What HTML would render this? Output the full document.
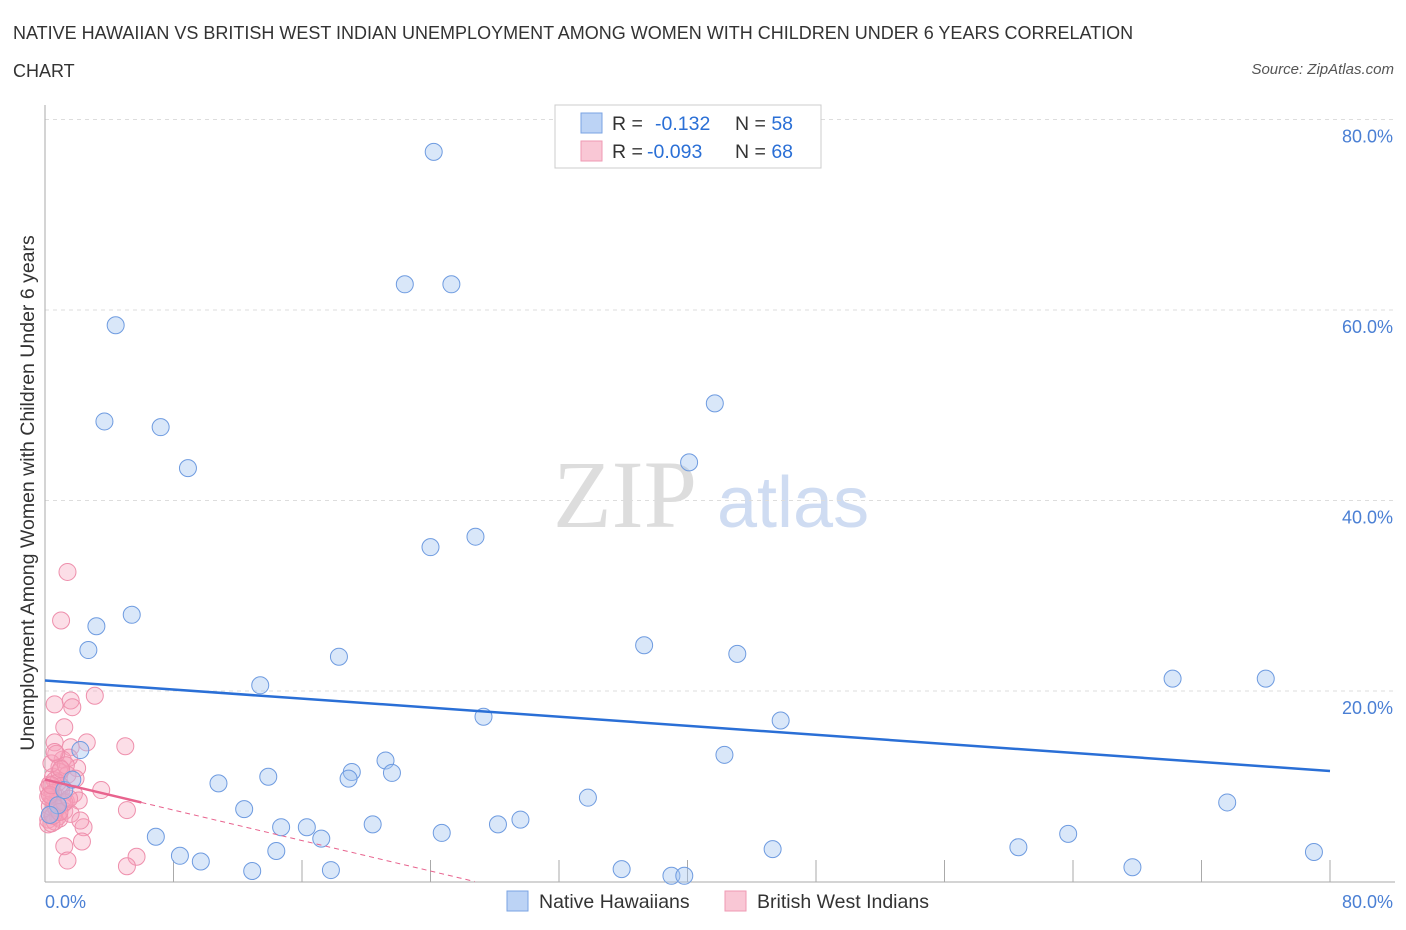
<!DOCTYPE html>
<html><head><meta charset="utf-8">
<style>
body{margin:0;background:#fff;font-family:"Liberation Sans",sans-serif;}
#wrap{position:relative;width:1406px;height:930px;overflow:hidden;}
.title{position:absolute;left:13px;top:14px;font-size:18px;color:#333;line-height:38px;width:1165px;}
.src{position:absolute;right:12px;top:61px;font-size:15px;color:#555;font-style:italic;}
</style></head><body>
<div id="wrap">
<div class="title">NATIVE HAWAIIAN VS BRITISH WEST INDIAN UNEMPLOYMENT AMONG WOMEN WITH CHILDREN UNDER 6 YEARS CORRELATION CHART</div>
<div class="src">Source: ZipAtlas.com</div>
<svg id="chart" width="1406" height="930" style="position:absolute;left:0;top:0"></svg>
</div>
<script>
const blueX=[24.2,22.4,25.3,4.4,41.7,3.7,7.2,8.9,40.1,24.0,26.8,5.4,3.2,2.7,37.3,43.1,18.3,13.4,70.2,76.0,27.3,45.8,2.2,21.2,42.3,21.6,13.9,19.1,18.9,10.8,12.4,33.8,73.6,20.4,14.7,16.3,6.9,17.2,24.7,28.2,29.6,63.7,60.6,45.3,14.4,8.4,9.7,12.9,17.8,35.9,39.0,39.8,67.7,79.0,0.8,1.2,1.7,0.3];
const blueY=[76.6,62.7,62.7,58.4,50.2,48.3,47.7,43.4,44.0,35.1,36.2,28.0,26.8,24.3,24.8,23.9,23.6,20.6,21.3,21.3,17.3,16.9,13.8,12.7,13.3,11.4,11.0,11.5,10.8,10.3,7.6,8.8,8.3,6.0,5.7,5.7,4.7,4.5,5.1,6.0,6.5,5.0,3.6,3.4,3.2,2.7,2.1,1.1,1.2,1.3,0.6,0.6,1.5,3.1,8.0,9.6,10.7,7.0];
const pinkX=[1.4,1.0,0.6,1.6,1.7,3.1,1.2,0.6,2.6,1.6,5.0,2.0,3.5,5.1,2.4,2.3,1.2,1.4,5.7,5.1,0.2,0.4,0.6,0.8,1.0,0.3,0.5,0.9,1.1,0.2,0.7,1.3,0.4,0.6,0.9,1.5,0.3,0.8,1.2,0.5,0.2,1.0,1.8,0.4,0.7,1.4,0.6,0.3,1.1,0.9,2.1,0.5,0.8,1.6,0.2,1.3,0.4,0.7,1.9,1.0,0.6,0.3,1.2,0.5,0.9,2.2,0.4,1.5];
const pinkY=[32.5,27.4,18.6,19.0,18.3,19.5,16.2,14.6,14.6,14.1,14.2,11.9,9.6,7.5,5.7,4.2,3.7,2.2,2.6,1.6,6.5,7.2,8.0,8.8,9.5,10.2,11.0,12.0,12.8,6.0,7.6,8.4,9.0,10.6,11.5,13.0,7.0,6.8,7.4,8.6,9.8,10.0,9.2,12.4,13.4,11.2,6.3,7.9,8.1,6.6,8.5,9.3,10.4,7.1,8.9,12.2,6.1,7.7,10.8,11.8,13.6,9.1,8.3,6.9,7.3,6.4,10.1,8.7];
const xTicks=["0.0%","80.0%"];
const yTickVals=[20,40,60,80];
const blueLine=[21.1,11.6];
const pinkLine=[10.7,-0.40];
const X0=45,X1=1330,Y0=881.5,Y80=119.5;
const sx=v=>X0+(X1-X0)*v/80, sy=v=>Y0-(Y0-Y80)*v/80;
const svg=document.getElementById('chart');const NS='http://www.w3.org/2000/svg';
function mk(t,a,p){const e=document.createElementNS(NS,t);for(const k in a)e.setAttribute(k,a[k]);(p||svg).appendChild(e);return e;}
let w=mk('text',{x:553,y:527,'font-size':96,fill:'#ddd','font-family':'Liberation Serif, serif'});w.textContent='ZIP';


w=mk('text',{x:717,y:527,'font-size':72,fill:'#cfdcf2','font-family':'Liberation Sans, sans-serif'});w.textContent='atlas';


yTickVals.forEach(v=>{let g=mk('line',{x1:X0,x2:1395,y1:sy(v),y2:sy(v),stroke:'#ddd','stroke-dasharray':'4,4'});


let t=mk('text',{x:1393,y:sy(v)+23,'text-anchor':'end','font-size':18,fill:'#4a7fd4'});t.textContent=v.toFixed(1)+'%';

});
let ax=mk('line',{x1:X0,x2:X0,y1:105,y2:882,stroke:'#aaa'});


ax=mk('line',{x1:X0,x2:1395,y1:882,y2:882,stroke:'#aaa'});


for(let i=1;i<=10;i++){let t=mk('line',{x1:sx(i*8),x2:sx(i*8),y1:860,y2:882,stroke:'#aaa'});

}
let t=mk('text',{x:45,y:908,'font-size':18,fill:'#4a7fd4'});t.textContent=xTicks[0];


t=mk('text',{x:1393,y:908,'font-size':18,fill:'#4a7fd4','text-anchor':'end'});t.textContent=xTicks[1];


t=mk('text',{x:0,y:0,'font-size':19.5,fill:'#333','text-anchor':'middle',transform:'translate(34,493) rotate(-90)'});t.textContent='Unemployment Among Women with Children Under 6 years';


pinkX.forEach((x,i)=>{let c=mk('circle',{cx:sx(x),cy:sy(pinkY[i]),r:8.5,fill:'rgba(246,160,185,0.35)',stroke:'#ee8fac','stroke-width':1});

});
blueX.forEach((x,i)=>{let c=mk('circle',{cx:sx(x),cy:sy(blueY[i]),r:8.5,fill:'rgba(160,195,240,0.4)',stroke:'#6e9be0','stroke-width':1});

});
let l=mk('line',{x1:sx(0),y1:sy(blueLine[0]),x2:sx(80),y2:sy(blueLine[1]),stroke:'#2a6fd6','stroke-width':2.5});


const pz=-pinkLine[0]/pinkLine[1];
l=mk('line',{x1:sx(0),y1:sy(pinkLine[0]),x2:sx(6),y2:sy(pinkLine[0]+pinkLine[1]*6),stroke:'#e8638e','stroke-width':2.5});


l=mk('line',{x1:sx(6),y1:sy(pinkLine[0]+pinkLine[1]*6),x2:sx(pz),y2:sy(0),stroke:'#e8638e','stroke-width':1,'stroke-dasharray':'5,4'});


let r=mk('rect',{x:555,y:105,width:266,height:63,fill:'#fff',stroke:'#ccc'});


[['#bcd3f5','#7aa3e3','-0.132','58',123],['#f9c7d5','#ef9ab3','-0.093','68',151]].forEach((d,i)=>{
let s=mk('rect',{x:581,y:d[4]-10,width:21,height:20,fill:d[0],stroke:d[1]});


let tx=mk('text',{x:612,y:d[4]+7,'font-size':19.5,fill:'#333'});
tx.innerHTML='R = <tspan fill="#2a6fd6" x="'+(i?647:655)+'">'+d[2]+'</tspan><tspan x="735">N = </tspan><tspan fill="#2a6fd6">'+d[3]+'</tspan>';

});
[['#bcd3f5','#7aa3e3','Native Hawaiians',507],['#f9c7d5','#ef9ab3','British West Indians',725]].forEach(d=>{
let s=mk('rect',{x:d[3],y:891,width:21,height:20,fill:d[0],stroke:d[1]});


let tx=mk('text',{x:d[3]+32,y:908,'font-size':19.5,fill:'#333'});tx.textContent=d[2];

});
</script>
</body></html>
